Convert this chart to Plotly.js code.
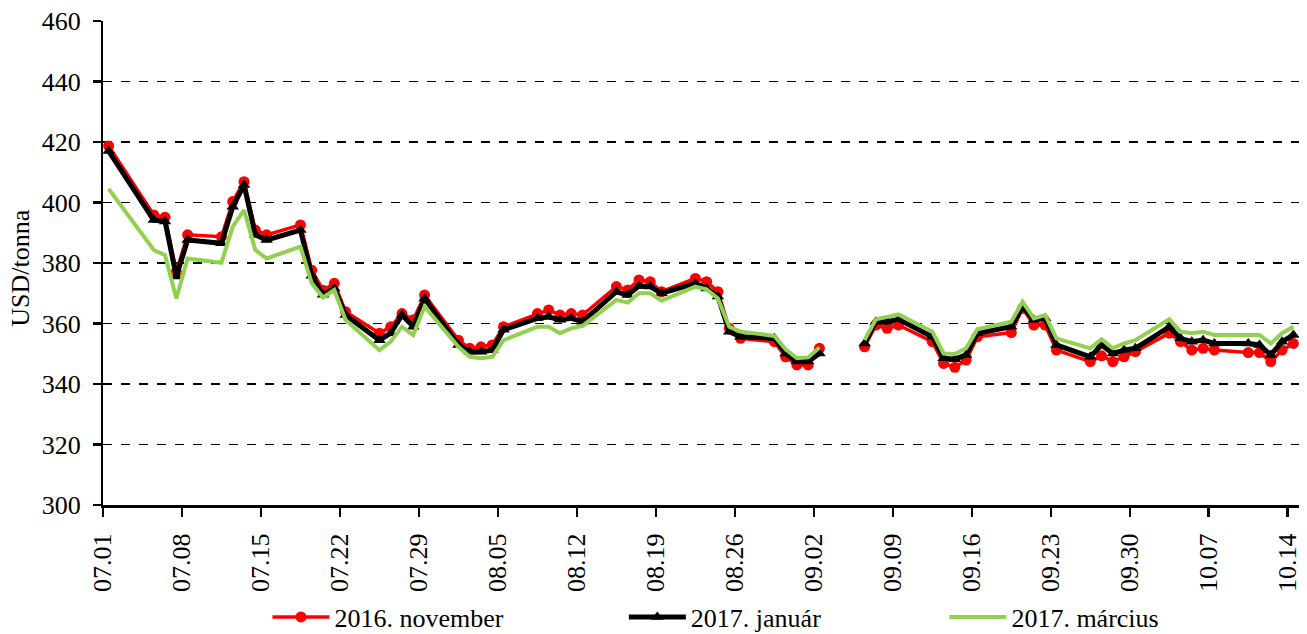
<!DOCTYPE html>
<html>
<head>
<meta charset="utf-8">
<script src="https://cdn.plot.ly/plotly-3.0.1.min.js"></script>
<style>html,body{margin:0;padding:0;background:#fff;}#chart{width:1307px;height:634px;}</style>
</head>
<body>
<div id="chart"></div>
<script>
const dates = [
 "2016-07-01","2016-07-05","2016-07-06","2016-07-07","2016-07-08",
 "2016-07-11","2016-07-12","2016-07-13","2016-07-14","2016-07-15",
 "2016-07-18","2016-07-19","2016-07-20","2016-07-21","2016-07-22",
 "2016-07-25","2016-07-26","2016-07-27","2016-07-28","2016-07-29",
 "2016-08-01","2016-08-02","2016-08-03","2016-08-04","2016-08-05",
 "2016-08-08","2016-08-09","2016-08-10","2016-08-11","2016-08-12",
 "2016-08-15","2016-08-16","2016-08-17","2016-08-18","2016-08-19",
 "2016-08-22","2016-08-23","2016-08-24","2016-08-25","2016-08-26",
 "2016-08-29","2016-08-30","2016-08-31",
 "2016-09-01","2016-09-02","2016-09-05",
 "2016-09-06","2016-09-07","2016-09-08","2016-09-09",
 "2016-09-12","2016-09-13","2016-09-14","2016-09-15","2016-09-16",
 "2016-09-19","2016-09-20","2016-09-21","2016-09-22","2016-09-23",
 "2016-09-26","2016-09-27","2016-09-28","2016-09-29","2016-09-30",
 "2016-10-03","2016-10-04","2016-10-05","2016-10-06","2016-10-07",
 "2016-10-10","2016-10-11","2016-10-12","2016-10-13","2016-10-14"
];
const nov2016 = [
 418.7,395.9,395.1,377.1,389.3, 388.7,400.3,406.9,390.9,389.3,
 392.6,377.6,371.0,373.3,363.9, 356.8,358.9,363.3,361.2,369.4,
 354.5,351.8,352.3,352.9,358.9, 363.3,364.5,362.8,363.3,362.8,
 372.2,371.1,374.4,373.8,370.5, 374.9,373.8,370.5,358.4,355.1,
 354.0,349.0,346.3,
 346.3,351.8,null,
 352.3,359.5,358.4,359.5, 354.0,346.8,345.5,347.9,355.6,
 357.0,365.0,359.5,359.5,351.2, 347.4,349.3,347.4,349.0,350.7,
 356.8,354.0,351.2,351.8,351.2, 350.4,350.4,347.4,351.2,353.4
];
const jan2017 = [
 417.0,394.2,393.7,375.5,387.6, 386.5,398.6,405.8,389.3,387.6,
 390.9,375.8,369.5,371.6,362.8, 354.5,356.8,362.8,358.9,368.3,
 352.9,350.7,350.7,351.2,357.9, 361.7,362.2,361.2,361.7,360.6,
 370.5,369.4,372.4,372.2,370.0, 373.3,371.6,368.9,357.3,355.6,
 355.1,350.1,347.4,
 347.4,350.1,null,
 353.4,360.6,360.6,361.4, 355.6,348.5,348.2,349.6,356.8,
 358.9,365.6,361.2,361.7,352.9, 349.0,352.9,350.1,351.2,351.8,
 358.9,355.1,354.0,354.5,353.4, 353.4,352.9,349.6,354.0,356.2
];
const mar2017 = [
 404.5,384.3,382.6,368.3,381.5, 380.1,392.0,397.5,384.3,381.5,
 385.4,373.3,368.6,371.1,361.2, 351.2,354.0,358.9,356.2,365.6,
 352.3,349.0,348.5,349.0,354.5, 358.9,358.9,356.8,358.4,359.2,
 367.8,366.9,370.0,370.0,367.5, 372.2,371.3,368.3,358.9,357.3,
 355.9,351.5,348.5,
 348.8,352.1,null,
 354.5,361.4,362.2,363.0, 357.3,350.1,349.9,351.8,358.1,
 360.6,367.2,361.7,362.8,355.1, 351.8,354.8,351.8,353.4,354.5,
 361.4,357.3,356.8,357.3,356.2, 356.2,356.2,353.4,356.8,358.9
];
const seriesNames = ["2016. november", "2017. január", "2017. március"];
const yTitle = "USD/tonna";

// points sit in the middle of each day slot (date axis, between tick marks)
const xs = dates.map(d => d + " 12:00");
const font = "Liberation Serif, Times New Roman, serif";
const FS = 26;
const NBSP = "\u00a0";

const traces = [
 {x: xs, y: nov2016, name: seriesNames[0], legend: "legend", type: "scatter", mode: "lines+markers",
  line: {color: "#FF0000", width: 3.5}, marker: {symbol: "circle", size: 11, color: "#FF0000"}, connectgaps: false},
 {x: xs, y: jan2017, name: seriesNames[1], legend: "legend2", type: "scatter", mode: "lines+markers",
  line: {color: "#000000", width: 5}, marker: {symbol: "triangle-up", size: 11, color: "#000000"}, connectgaps: false},
 {x: xs, y: mar2017, name: seriesNames[2], legend: "legend3", type: "scatter", mode: "lines",
  line: {color: "#92D050", width: 4}, connectgaps: false}
];

function leg(x) {
 return {orientation: "h", x: x, xanchor: "left", y: -0.2314, yanchor: "middle",
  font: {family: font, size: FS, color: "#000"}, itemwidth: 57, bgcolor: "rgba(0,0,0,0)"};
}

const layout = {
 width: 1307, height: 634,
 margin: {l: 103, r: 8, t: 21, b: 129, autoexpand: false},
 paper_bgcolor: "#fff", plot_bgcolor: "#fff",
 font: {family: font, size: FS, color: "#000"},
 showlegend: true,
 legend: leg(0.1375),
 legend2: leg(0.4355),
 legend3: leg(0.7035),
 xaxis: {
  type: "date", range: ["2016-07-01", "2016-10-15"],
  tick0: "2016-07-01", dtick: 7 * 86400000, tickformat: "%m.%d", ticksuffix: NBSP,
  tickangle: -90, ticks: "outside", ticklen: 9, tickwidth: 2.5, tickcolor: "#000",
  showline: true, linecolor: "#000", linewidth: 2.5, showgrid: false, zeroline: false,
  automargin: false,
  tickfont: {family: font, size: FS, color: "#000"}
 },
 yaxis: {
  range: [300, 460], dtick: 20, tick0: 300, ticksuffix: NBSP,
  ticks: "outside", ticklen: 8, tickwidth: 2.5, tickcolor: "#000",
  showline: true, linecolor: "#000", linewidth: 2.5, automargin: false,
  showgrid: true, gridcolor: "#000", gridwidth: 1.3, griddash: "dash", zeroline: false,
  tickfont: {family: font, size: FS, color: "#000"}
 },
 annotations: [{
  text: yTitle, xref: "paper", yref: "paper", x: -0.0686, y: 0.49,
  xanchor: "center", yanchor: "middle", textangle: -90, showarrow: false,
  font: {family: font, size: 26, color: "#000"}
 }]
};

Plotly.newPlot("chart", traces, layout, {displayModeBar: false, staticPlot: true});
</script>
</body>
</html>
